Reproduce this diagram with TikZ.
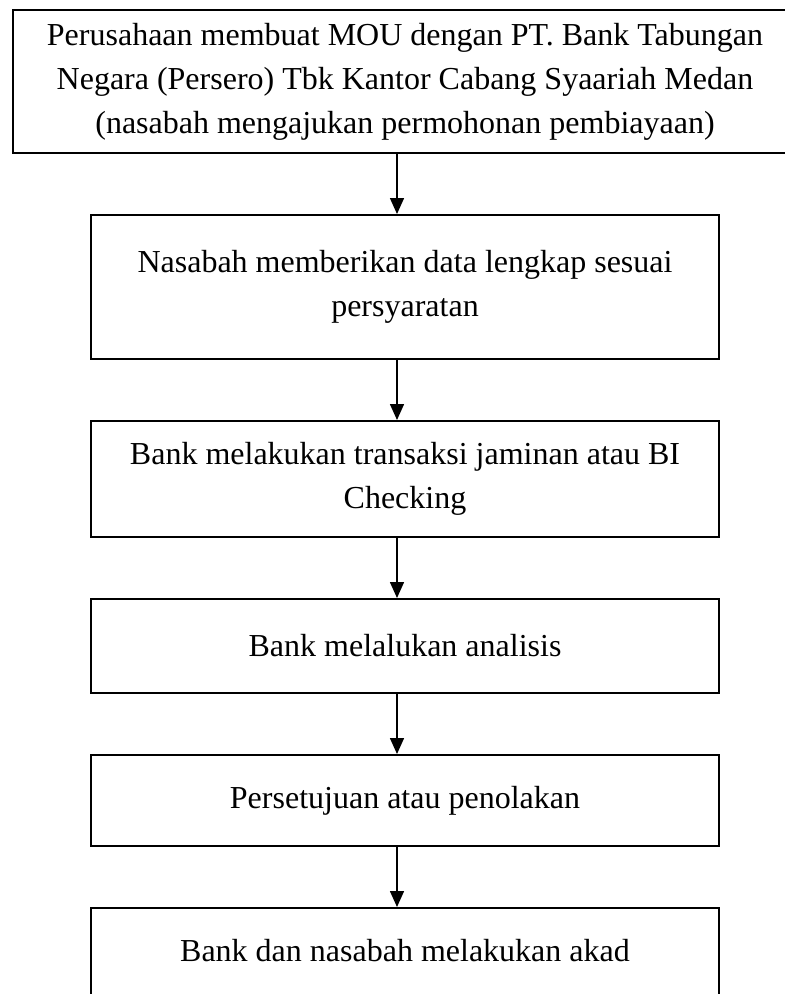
\documentclass[tikz,border=0pt]{standalone}
\usepackage{fontspec}
\setmainfont{Liberation Serif}
\usetikzlibrary{shapes, positioning, arrows.meta}
\usepackage{xcolor}

\begin{document}
\begin{tikzpicture}[x=1pt, y=-1pt, node distance=60pt,
  font=\fontsize{32}{44}\selectfont]

  \tikzstyle{tahap} = [rectangle, draw, line width=2pt, align=center, inner sep=0pt, minimum width=628pt];
  \tikzstyle{panah} = [-{Triangle[width=14pt, length=16pt]}, line width=1.5pt];

  \useasboundingbox (0,0) rectangle (785,994);

  \node[tahap, minimum width=784pt, minimum height=143pt] (mou) at (405,81.5)
    {Perusahaan membuat MOU dengan PT. Bank Tabungan\\
     Negara (Persero) Tbk Kantor Cabang Syaariah Medan\\
     (nasabah mengajukan permohonan pembiayaan)};
  \node[tahap, minimum height=144pt, below=of mou] (data)
    {Nasabah memberikan data lengkap sesuai\\ persyaratan};
  \node[tahap, minimum height=116pt, below=of data] (cek)
    {Bank melakukan transaksi jaminan atau BI\\ Checking};
  \node[tahap, minimum height=94pt, below=of cek] (analisis)
    {Bank melalukan analisis};
  \node[tahap, minimum height=91pt, below=of analisis] (putusan)
    {Persetujuan atau penolakan};
  \node[tahap, text height=53pt, text depth=70pt, below=of putusan] (akad)
    {Bank dan nasabah melakukan akad};

  % arrows run a little left of the box centres
  \coordinate (jalur) at (397,0);
  \foreach \dari/\ke in {mou/data, data/cek, cek/analisis, analisis/putusan, putusan/akad}
    \draw[panah] (\dari.south -| jalur) -- (\ke.north -| jalur);
\end{tikzpicture}
\end{document}
